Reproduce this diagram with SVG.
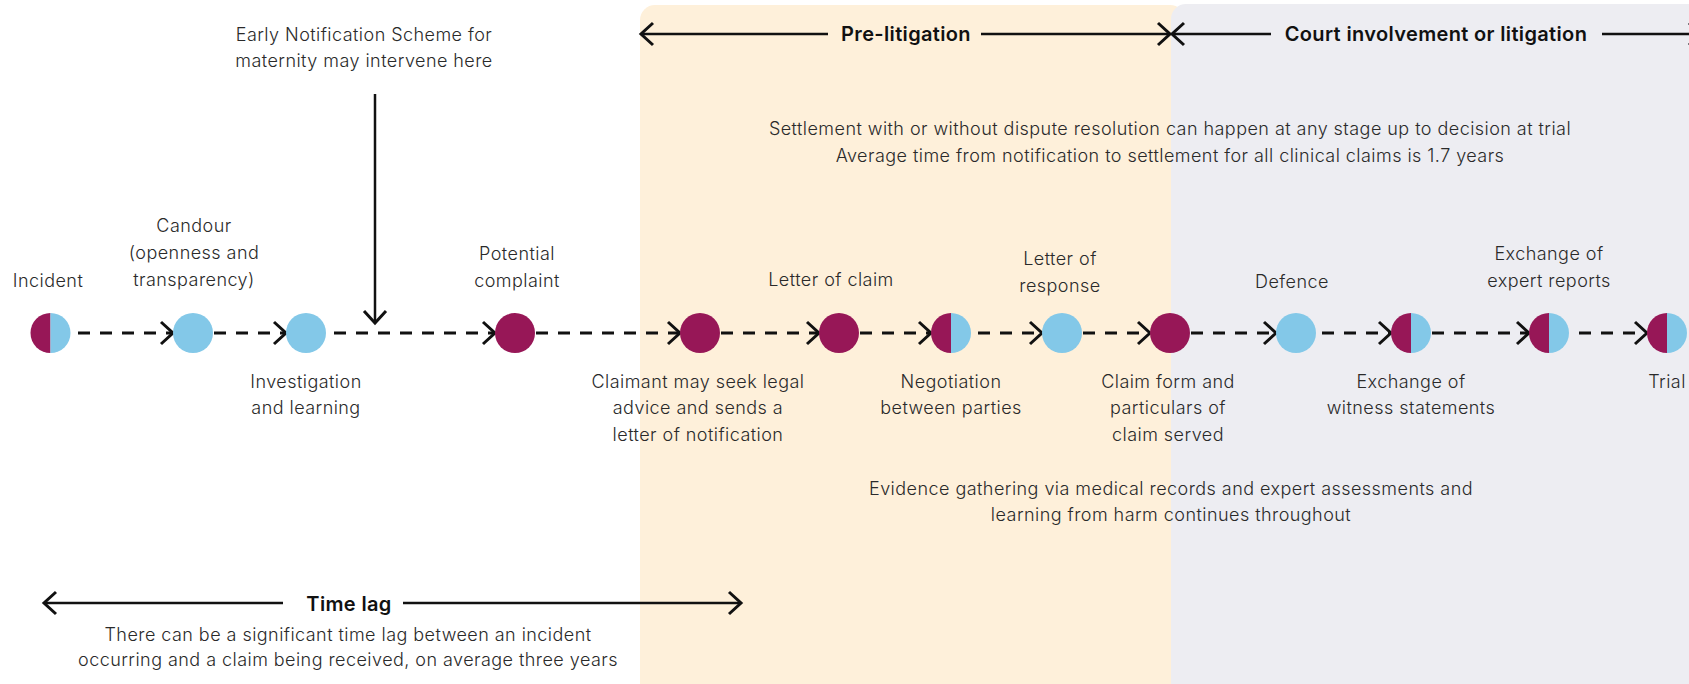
<svg xmlns="http://www.w3.org/2000/svg" width="1689" height="684" viewBox="0 0 1689 684">
<style>
.t{font-family:Inter,"Liberation Sans",sans-serif;font-weight:300;font-size:18px;letter-spacing:0.45px;fill:#2a2a2a;text-anchor:middle}
.b{font-family:Inter,"Liberation Sans",sans-serif;font-weight:600;font-size:20px;letter-spacing:0.35px;fill:#111;text-anchor:middle}
.m{fill:#971757}
.c{fill:#83C8E8}
.dash{stroke:#111;stroke-width:3;fill:none;stroke-dasharray:12 10}
.solid{stroke:#111;stroke-width:2.5;fill:none}
</style>
<defs>
<marker id="ah" markerUnits="userSpaceOnUse" markerWidth="30" markerHeight="30" viewBox="-15 -15 30 30" refX="0" refY="0" orient="auto" overflow="visible">
<path d="M-12,-11 L0,0 L-12,11" fill="none" stroke="#111" stroke-width="3" stroke-dasharray="none"/>
</marker>
<g id="half"><path class="m" d="M0,-20 A20,20 0 0,0 0,20 Z"/><path class="c" d="M0,-20 A20,20 0 0,1 0,20 Z"/></g>
</defs>

<g id="panels">
<rect x="640" y="5" width="545" height="694" rx="15" fill="#FEF0DA"/>
<rect x="1171" y="4" width="540" height="695" rx="15" fill="#EDEDF2"/>
</g>

<g id="connectors">
<line class="dash" x1="78" y1="333" x2="173" y2="333" marker-end="url(#ah)"/>
<line class="dash" x1="214" y1="333" x2="286" y2="333" marker-end="url(#ah)"/>
<line class="dash" x1="334" y1="333" x2="495" y2="333" marker-end="url(#ah)"/>
<line class="dash" x1="536" y1="333" x2="680" y2="333" marker-end="url(#ah)"/>
<line class="dash" x1="721" y1="333" x2="819" y2="333" marker-end="url(#ah)"/>
<line class="dash" x1="860" y1="333" x2="931" y2="333" marker-end="url(#ah)"/>
<line class="dash" x1="978" y1="333" x2="1042" y2="333" marker-end="url(#ah)"/>
<line class="dash" x1="1083" y1="333" x2="1150" y2="333" marker-end="url(#ah)"/>
<line class="dash" x1="1191" y1="333" x2="1276" y2="333" marker-end="url(#ah)"/>
<line class="dash" x1="1322" y1="333" x2="1391" y2="333" marker-end="url(#ah)"/>
<line class="dash" x1="1432" y1="333" x2="1529" y2="333" marker-end="url(#ah)"/>
<line class="dash" x1="1579" y1="333" x2="1647" y2="333" marker-end="url(#ah)"/>
<line class="solid" x1="375" y1="94" x2="375" y2="323" marker-end="url(#ah)"/>
</g>

<g id="phase-arrows">
<line class="solid" x1="828" y1="34" x2="641" y2="34" marker-end="url(#ah)"/>
<line class="solid" x1="981" y1="34" x2="1170" y2="34" marker-end="url(#ah)"/>
<text class="b" x="906" y="41">Pre-litigation</text>
<line class="solid" x1="1271" y1="34" x2="1172" y2="34" marker-end="url(#ah)"/>
<line class="solid" x1="1602" y1="34" x2="1701" y2="34" marker-end="url(#ah)"/>
<text class="b" x="1436" y="41">Court involvement or litigation</text>
</g>

<g id="timelag">
<line class="solid" x1="283" y1="603" x2="44" y2="603" marker-end="url(#ah)"/>
<line class="solid" x1="403" y1="603" x2="741" y2="603" marker-end="url(#ah)"/>
<text class="b" x="349" y="611">Time lag</text>
<text class="t" x="348" y="641">There can be a significant time lag between an incident</text>
<text class="t" x="348" y="666">occurring and a claim being received, on average three years</text>
</g>

<g id="notes">
<text class="t" x="364" y="41">Early Notification Scheme for</text>
<text class="t" x="364" y="67">maternity may intervene here</text>
<text class="t" x="1170" y="135">Settlement with or without dispute resolution can happen at any stage up to decision at trial</text>
<text class="t" x="1170" y="162">Average time from notification to settlement for all clinical claims is 1.7 years</text>
<text class="t" x="1171" y="495">Evidence gathering via medical records and expert assessments and</text>
<text class="t" x="1171" y="521">learning from harm continues throughout</text>
</g>

<g id="n-incident"><use href="#half" x="50.5" y="333"/><text class="t" x="48" y="287">Incident</text></g>
<g id="n-candour"><circle class="c" cx="193" cy="333" r="20"/><text class="t" x="194" y="232">Candour</text><text class="t" x="194" y="259">(openness and</text><text class="t" x="194" y="286">transparency)</text></g>
<g id="n-investigation"><circle class="c" cx="306" cy="333" r="20"/><text class="t" x="306" y="388">Investigation</text><text class="t" x="306" y="414">and learning</text></g>
<g id="n-complaint"><circle class="m" cx="515" cy="333" r="20"/><text class="t" x="517" y="260">Potential</text><text class="t" x="517" y="287">complaint</text></g>
<g id="n-claimant"><circle class="m" cx="700" cy="333" r="20"/><text class="t" x="698" y="388">Claimant may seek legal</text><text class="t" x="698" y="414">advice and sends a</text><text class="t" x="698" y="441">letter of notification</text></g>
<g id="n-letterclaim"><circle class="m" cx="839" cy="333" r="20"/><text class="t" x="831" y="286">Letter of claim</text></g>
<g id="n-negotiation"><use href="#half" x="951" y="333"/><text class="t" x="951" y="388">Negotiation</text><text class="t" x="951" y="414">between parties</text></g>
<g id="n-response"><circle class="c" cx="1062" cy="333" r="20"/><text class="t" x="1060" y="265">Letter of</text><text class="t" x="1060" y="292">response</text></g>
<g id="n-claimform"><circle class="m" cx="1170" cy="333" r="20"/><text class="t" x="1168" y="388">Claim form and</text><text class="t" x="1168" y="414">particulars of</text><text class="t" x="1168" y="441">claim served</text></g>
<g id="n-defence"><circle class="c" cx="1296" cy="333" r="20"/><text class="t" x="1292" y="288">Defence</text></g>
<g id="n-witness"><use href="#half" x="1411" y="333"/><text class="t" x="1411" y="388">Exchange of</text><text class="t" x="1411" y="414">witness statements</text></g>
<g id="n-expert"><use href="#half" x="1549" y="333"/><text class="t" x="1549" y="260">Exchange of</text><text class="t" x="1549" y="287">expert reports</text></g>
<g id="n-trial"><use href="#half" x="1667" y="333"/><text class="t" x="1667" y="388">Trial</text></g>
</svg>
